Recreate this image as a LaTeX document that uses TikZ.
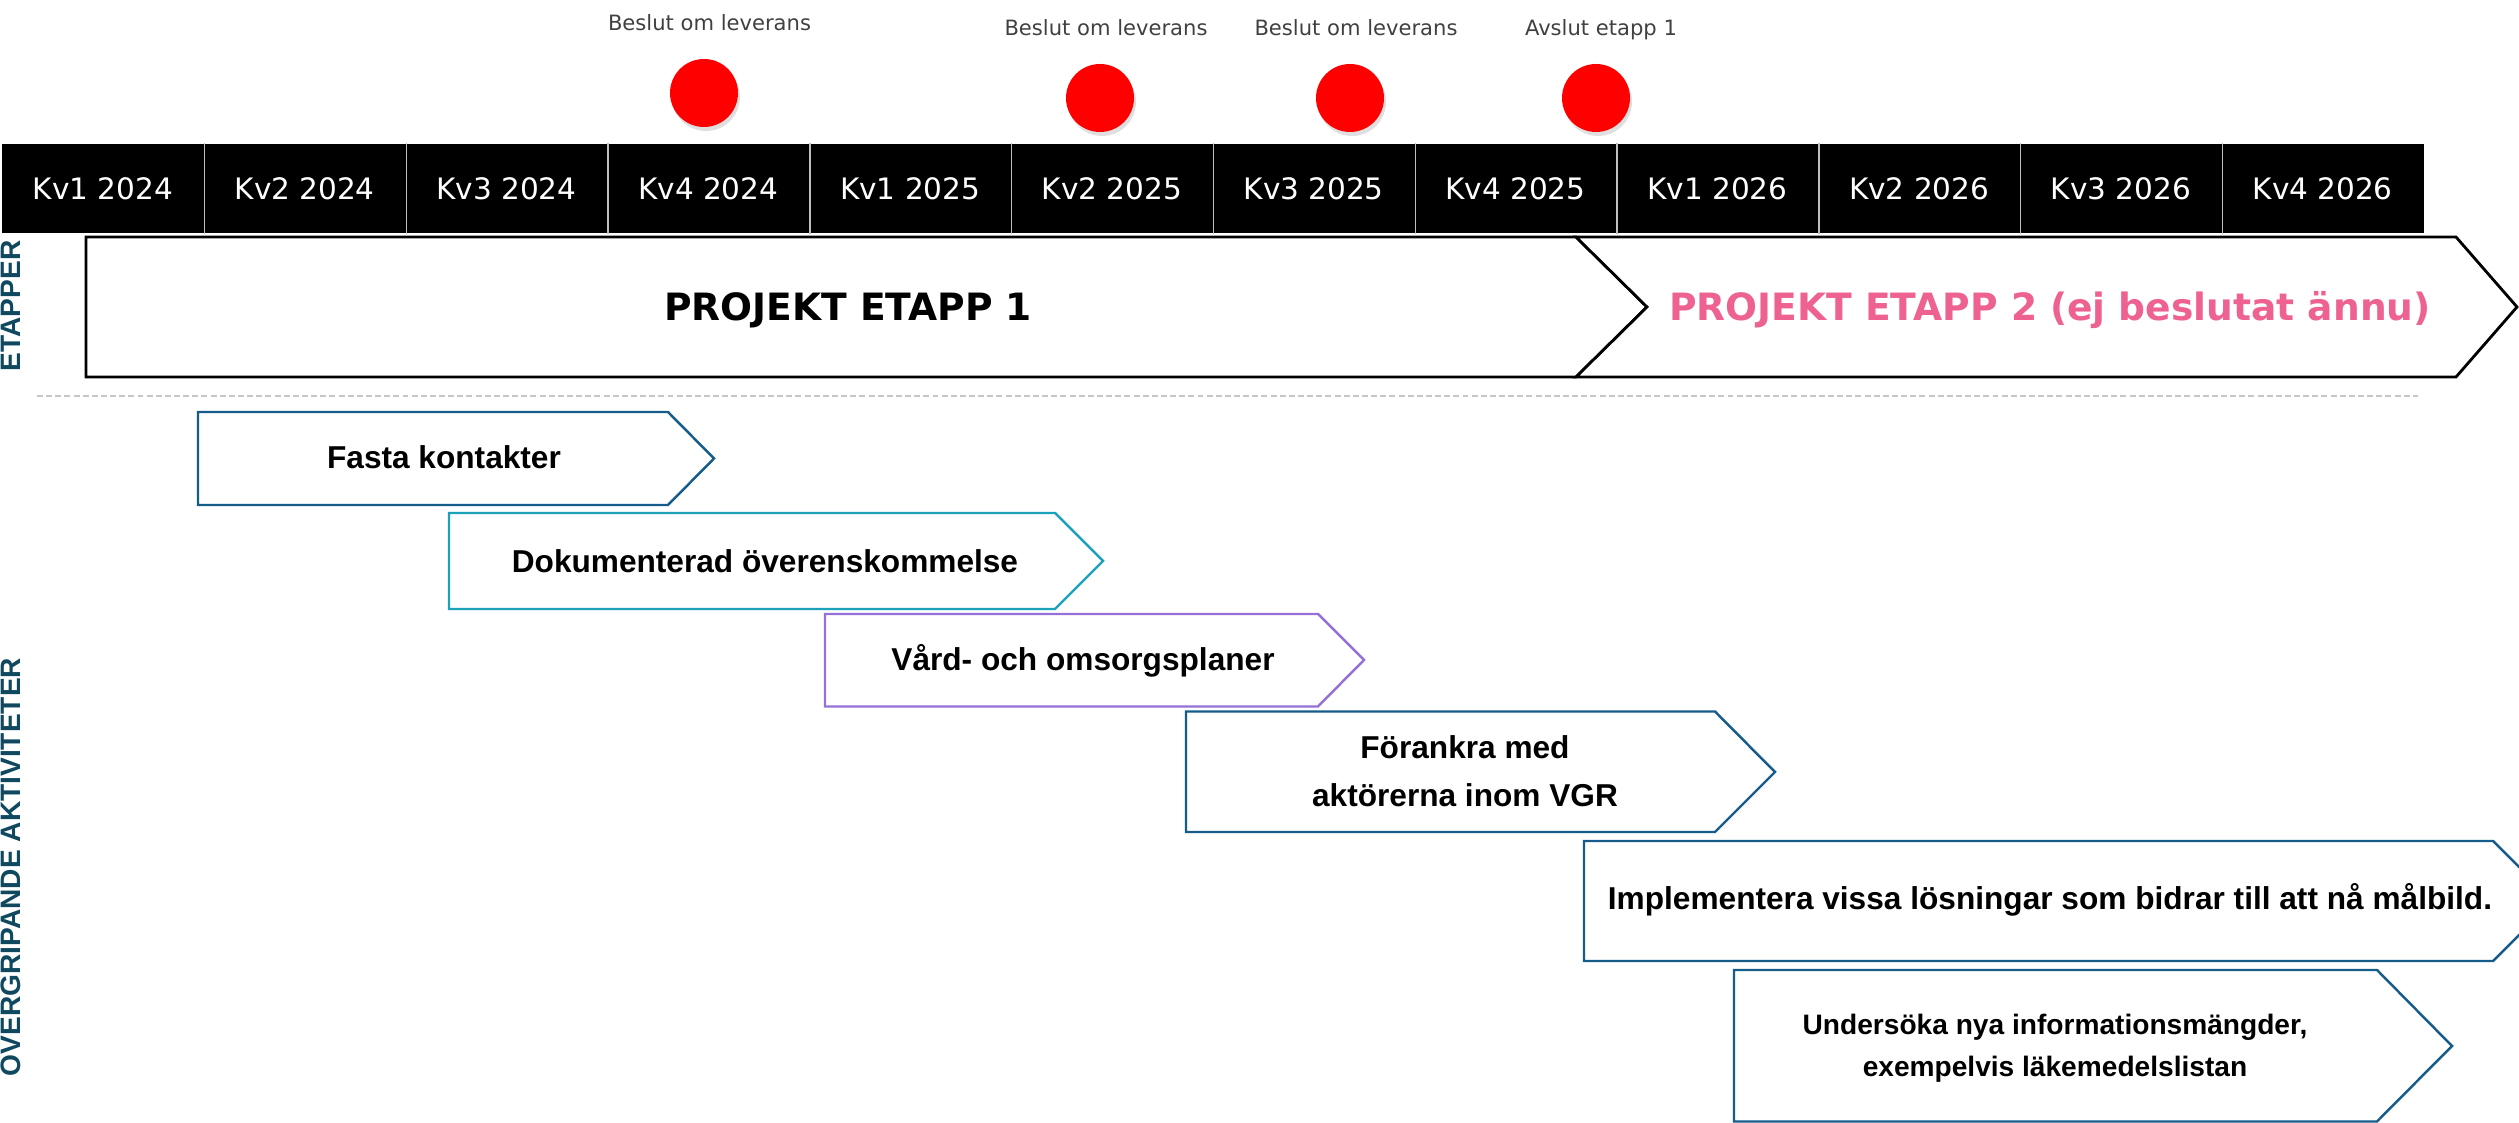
\documentclass[tikz,border=0pt]{standalone}
\usepackage{fontspec}
\setmainfont{Liberation Sans}
\newfontfamily\verdanafont{DejaVu Sans}
\usetikzlibrary{shadows}
\definecolor{darkblue}{RGB}{22,92,138}
\definecolor{tealblue}{RGB}{27,161,186}
\definecolor{lilac}{RGB}{150,112,214}
\definecolor{sidecol}{RGB}{16,72,96}
\definecolor{pinktext}{RGB}{238,98,145}
\tikzset{
  quarter/.style={fill=black, draw=none, text=white, minimum width=2.018cm, minimum height=0.89cm, inner sep=0pt, font=\verdanafont\fontsize{8.4}{10}\selectfont},
  quartersep/.style={draw=white!75!black, line width=0.4pt},
  milestone/.style={circle, fill=red, minimum size=0.68cm, inner sep=0pt, drop shadow={shadow xshift=0.02cm, shadow yshift=-0.04cm, opacity=0.25}},
  milestonelabel/.style={anchor=base, inner sep=0pt, text=black!75, font=\verdanafont\fontsize{6}{7}\selectfont},
  phase/.style={draw=black, fill=white, line width=0.8pt, line join=miter},
  phaselabel/.style={anchor=base, inner sep=0pt, font=\verdanafont\bfseries\fontsize{10.7}{12}\selectfont},
  sidelabel/.style={rotate=90, anchor=north, inner sep=0pt, text=sidecol, font=\bfseries\fontsize{8}{9}\selectfont},
  divider/.style={draw=black!22, line width=0.5pt, dash pattern=on 1.7pt off 0.9pt},
  activity/.style={fill=white, line width=0.7pt, line join=miter},
  activitylabel/.style={anchor=base, inner sep=0pt, align=center, font=\bfseries\fontsize{9}{13.9}\selectfont},
}
\begin{document}
\begin{tikzpicture}
\useasboundingbox (0,0) rectangle (25.19,11.23);
\clip (0,0) rectangle (25.19,11.23);
% quarters
\node[quarter] (q1) at (1.029,9.345) {Kv1 2024};
\node[quarter] (q2) at (3.047,9.345) {Kv2 2024};
\node[quarter] (q3) at (5.065,9.345) {Kv3 2024};
\node[quarter] (q4) at (7.083,9.345) {Kv4 2024};
\node[quarter] (q5) at (9.101,9.345) {Kv1 2025};
\node[quarter] (q6) at (11.119,9.345) {Kv2 2025};
\node[quarter] (q7) at (13.137,9.345) {Kv3 2025};
\node[quarter] (q8) at (15.155,9.345) {Kv4 2025};
\node[quarter] (q9) at (17.173,9.345) {Kv1 2026};
\node[quarter] (q10) at (19.191,9.345) {Kv2 2026};
\node[quarter] (q11) at (21.209,9.345) {Kv3 2026};
\node[quarter] (q12) at (23.227,9.345) {Kv4 2026};
\draw[quartersep] (q1.north east) -- (q1.south east);
\draw[quartersep] (q2.north east) -- (q2.south east);
\draw[quartersep] (q3.north east) -- (q3.south east);
\draw[quartersep] (q4.north east) -- (q4.south east);
\draw[quartersep] (q5.north east) -- (q5.south east);
\draw[quartersep] (q6.north east) -- (q6.south east);
\draw[quartersep] (q7.north east) -- (q7.south east);
\draw[quartersep] (q8.north east) -- (q8.south east);
\draw[quartersep] (q9.north east) -- (q9.south east);
\draw[quartersep] (q10.north east) -- (q10.south east);
\draw[quartersep] (q11.north east) -- (q11.south east);
% milestones
\node[milestone] (m1) at (7.04,10.30) {};
\node[milestone] (m2) at (11.00,10.25) {};
\node[milestone] (m3) at (13.50,10.25) {};
\node[milestone] (m4) at (15.96,10.25) {};
\node[milestonelabel] (l1) at (7.095,10.92) {Beslut om leverans};
\node[milestonelabel] (l2) at (11.06,10.87) {Beslut om leverans};
\node[milestonelabel] (l3) at (13.56,10.87) {Beslut om leverans};
\node[milestonelabel] (l4) at (16.01,10.87) {Avslut etapp 1};
% phases
\draw[phase] (0.86,8.86) -- (15.76,8.86) -- (16.47,8.16) -- (15.76,7.46) -- (0.86,7.46) -- cycle;
\draw[phase] (15.76,8.86) -- (24.56,8.86) -- (25.17,8.16) -- (24.56,7.46) -- (15.76,7.46) -- (16.47,8.16) -- cycle;
\node[phaselabel] (p1) at (8.48,8.02) {PROJEKT ETAPP 1};
\node[phaselabel, text=pinktext] (p2) at (20.50,8.02) {PROJEKT ETAPP 2 (ej beslutat ännu)};
\node[sidelabel] (s1) at (0,8.17) {ETAPPER};
\draw[divider] (0.37,7.27) -- (24.18,7.27);
% activities
\draw[activity, draw=darkblue] (1.98,7.11) -- (6.68,7.11) -- (7.14,6.645) -- (6.68,6.18) -- (1.98,6.18) -- cycle;
\draw[activity, draw=tealblue] (4.49,6.10) -- (10.55,6.10) -- (11.03,5.62) -- (10.55,5.14) -- (4.49,5.14) -- cycle;
\draw[activity, draw=lilac] (8.25,5.09) -- (13.18,5.09) -- (13.64,4.63) -- (13.18,4.165) -- (8.25,4.165) -- cycle;
\draw[activity, draw=darkblue] (11.86,4.115) -- (17.15,4.115) -- (17.75,3.51) -- (17.15,2.91) -- (11.86,2.91) -- cycle;
\draw[activity, draw=darkblue] (15.84,2.82) -- (24.93,2.82) -- (25.53,2.22) -- (24.93,1.62) -- (15.84,1.62) -- cycle;
\draw[activity, draw=darkblue] (17.34,1.53) -- (23.77,1.53) -- (24.52,0.77) -- (23.77,0.015) -- (17.34,0.015) -- cycle;
\node[activitylabel] (a1) at (4.44,6.54) {Fasta kontakter};
\node[activitylabel] (a2) at (7.65,5.50) {Dokumenterad överenskommelse};
\node[activitylabel] (a3) at (10.83,4.52) {Vård- och omsorgsplaner};
\node[activitylabel] (a4) at (14.65,3.16) {Förankra med\\aktörerna inom VGR};
\node[activitylabel] (a5) at (20.50,2.13) {Implementera vissa lösningar som bidrar till att nå målbild.};
\node[activitylabel, font=\bfseries\fontsize{8}{12}\selectfont] (a6) at (20.55,0.46) {Undersöka nya informationsmängder,\\exempelvis läkemedelslistan};
\node[sidelabel] (s2) at (0,2.56) {OVERGRIPANDE AKTIVITETER};
\end{tikzpicture}
\end{document}
